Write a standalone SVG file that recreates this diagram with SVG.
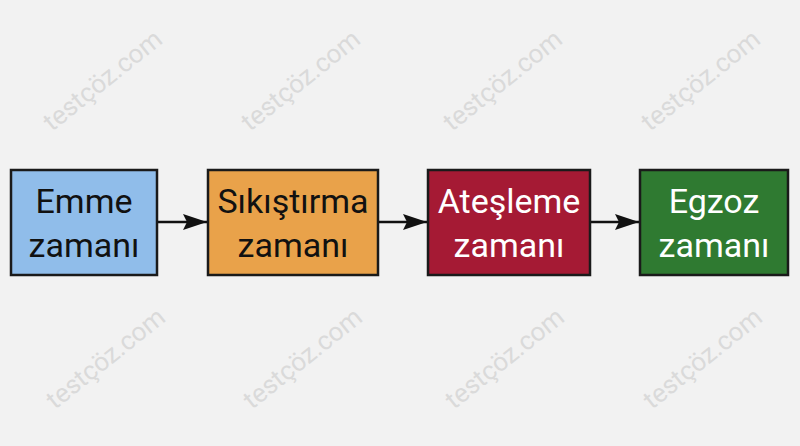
<svg xmlns="http://www.w3.org/2000/svg" width="800" height="446" viewBox="0 0 800 446">
<style>
.wm{font-family:Roboto,"Liberation Sans",sans-serif;font-size:26px;fill:#dadada}
.box{stroke:#1a1a1a;stroke-width:2.5}
.t{font-family:Roboto,"Liberation Sans",sans-serif;font-size:34px;text-anchor:middle}
.conn{stroke:#111;stroke-width:2.5;fill:none}
</style>
<defs>
<marker id="a" viewBox="0 0 24 16" refX="24" refY="8" markerWidth="24" markerHeight="16" markerUnits="userSpaceOnUse" orient="auto">
<path d="M0,0 L24,8 L0,16 L4,8 Z" fill="#111"/>
</marker>
</defs>
<rect width="800" height="446" fill="#f2f2f2"/>
<g id="watermarks">
<text class="wm" transform="translate(52,132) rotate(-38.7)">testçöz.com</text>
<text class="wm" transform="translate(250,132) rotate(-38.7)">testçöz.com</text>
<text class="wm" transform="translate(452,132) rotate(-38.7)">testçöz.com</text>
<text class="wm" transform="translate(650,132) rotate(-38.7)">testçöz.com</text>
<text class="wm" transform="translate(55,410) rotate(-38.7)">testçöz.com</text>
<text class="wm" transform="translate(252,410) rotate(-38.7)">testçöz.com</text>
<text class="wm" transform="translate(454,410) rotate(-38.7)">testçöz.com</text>
<text class="wm" transform="translate(652,410) rotate(-38.7)">testçöz.com</text>
</g>
<g id="connectors">
<line class="conn" x1="157" y1="222" x2="207" y2="222" marker-end="url(#a)"/>
<line class="conn" x1="378" y1="222" x2="427" y2="222" marker-end="url(#a)"/>
<line class="conn" x1="590" y1="222" x2="639" y2="222" marker-end="url(#a)"/>
</g>
<g id="emme">
<rect class="box" x="11" y="170" width="146" height="105" fill="#90bdea"/>
<text class="t" x="84" y="213" fill="#111">Emme</text>
<text class="t" x="84" y="257" fill="#111">zamanı</text>
</g>
<g id="sikistirma">
<rect class="box" x="208" y="170" width="170" height="105" fill="#e9a24a"/>
<text class="t" x="293" y="213" fill="#111">Sıkıştırma</text>
<text class="t" x="293" y="257" fill="#111">zamanı</text>
</g>
<g id="atesleme">
<rect class="box" x="428" y="170" width="162" height="105" fill="#a51a34"/>
<text class="t" x="509" y="213" fill="#fff">Ateşleme</text>
<text class="t" x="509" y="257" fill="#fff">zamanı</text>
</g>
<g id="egzoz">
<rect class="box" x="640" y="170" width="148" height="105" fill="#2f7a31"/>
<text class="t" x="714" y="213" fill="#fff">Egzoz</text>
<text class="t" x="714" y="257" fill="#fff">zamanı</text>
</g>
</svg>
